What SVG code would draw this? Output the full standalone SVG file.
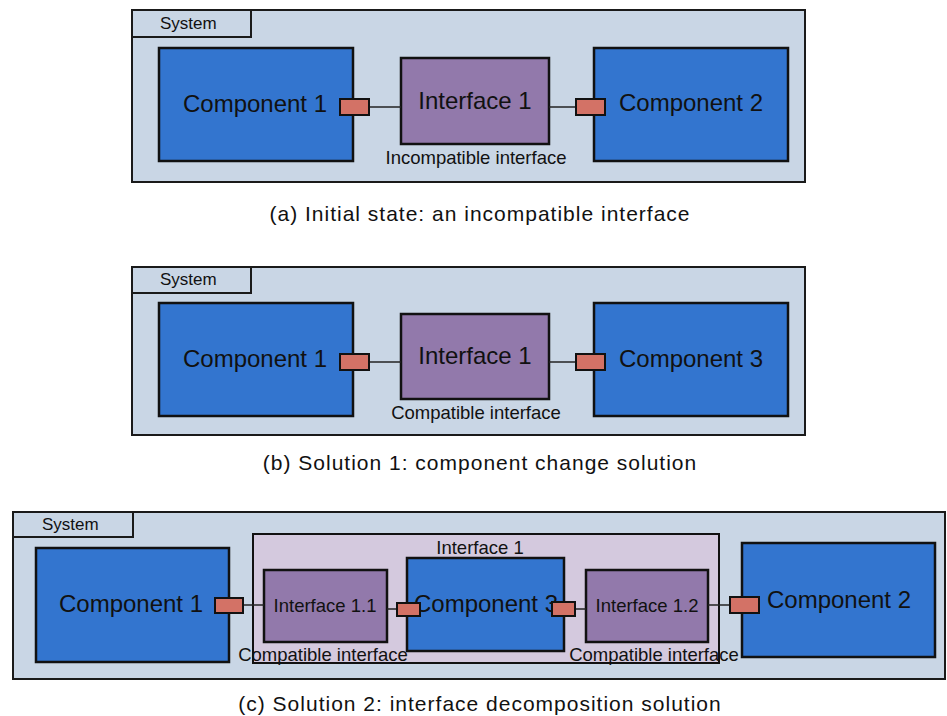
<svg xmlns="http://www.w3.org/2000/svg" width="947" height="716" viewBox="0 0 947 716">
<style>
text{font-family:"Liberation Sans",Arial,sans-serif;fill:#111}
.sys{fill:#c9d6e5;stroke:#1a1a1a;stroke-width:2}
.tab{fill:#c9d6e5;stroke:#1a1a1a;stroke-width:2}
.comp{fill:#3375cf;stroke:#111;stroke-width:2.5}
.intf{fill:#9279ab;stroke:#111;stroke-width:2.5}
.cont{fill:#d4c9de;stroke:#111;stroke-width:2}
.port{fill:#d37266;stroke:#111;stroke-width:2}
.wire{stroke:#222;stroke-width:1.5;fill:none}
.big{font-size:24px}
.mid{font-size:18.5px}
.sm{font-size:17px}
.cap{font-size:21px;letter-spacing:1px}
</style>
<rect width="947" height="716" fill="#ffffff"/>

<!-- Panel (a) -->
<g id="system-a">
<rect class="sys" x="132" y="10" width="673" height="172"/>
<rect class="tab" x="132" y="10" width="119" height="27"/>
<text class="sm" x="160" y="29">System</text>
</g>
<g id="comp1-a">
<rect class="comp" x="159" y="48" width="194" height="113"/>
<text class="big" x="255" y="112" text-anchor="middle">Component 1</text>
</g>
<g id="intf1-a">
<rect class="intf" x="401" y="58" width="148" height="86"/>
<text class="big" x="475" y="109" text-anchor="middle">Interface 1</text>
<text class="mid" x="476" y="164" text-anchor="middle">Incompatible interface</text>
</g>
<g id="comp2-a">
<rect class="comp" x="594" y="48" width="194" height="113"/>
<text class="big" x="691" y="111" text-anchor="middle">Component 2</text>
</g>

<!-- Panel (b) -->
<g id="system-b">
<rect class="sys" x="132" y="267" width="673" height="168"/>
<rect class="tab" x="132" y="267" width="119" height="26"/>
<text class="sm" x="160" y="285">System</text>
</g>
<g id="comp1-b">
<rect class="comp" x="159" y="303" width="194" height="113"/>
<text class="big" x="255" y="367" text-anchor="middle">Component 1</text>
</g>
<g id="intf1-b">
<rect class="intf" x="401" y="314" width="148" height="85"/>
<text class="big" x="475" y="364" text-anchor="middle">Interface 1</text>
<text class="mid" x="476" y="419" text-anchor="middle">Compatible interface</text>
</g>
<g id="comp3-b">
<rect class="comp" x="594" y="303" width="194" height="113"/>
<text class="big" x="691" y="367" text-anchor="middle">Component 3</text>
</g>

<!-- Panel (c) -->
<g id="system-c">
<rect class="sys" x="13" y="512" width="932" height="167"/>
<rect class="tab" x="13" y="512" width="120" height="25"/>
<text class="sm" x="42" y="530">System</text>
</g>
<g id="comp1-c">
<rect class="comp" x="36" y="548" width="193" height="114"/>
<text class="big" x="131" y="612" text-anchor="middle">Component 1</text>
</g>
<g id="intf1-c">
<rect class="cont" x="253" y="534" width="466" height="129"/>
<text class="mid" x="480" y="554" text-anchor="middle">Interface 1</text>
</g>
<g id="intf11-c">
<rect class="intf" x="264" y="570" width="123" height="72"/>
<text class="mid" x="325" y="612" text-anchor="middle">Interface 1.1</text>
</g>
<g id="comp3-c">
<rect class="comp" x="407" y="558" width="157" height="93"/>
<text class="big" x="486" y="612" text-anchor="middle">Component 3</text>
</g>
<g id="intf12-c">
<rect class="intf" x="586" y="570" width="122" height="72"/>
<text class="mid" x="647" y="612" text-anchor="middle">Interface 1.2</text>
</g>
<g id="comp2-c">
<rect class="comp" x="742" y="543" width="193" height="114"/>
<text class="big" x="839" y="608" text-anchor="middle">Component 2</text>
</g>
<g id="labels-c">
<text class="mid" x="323" y="661" text-anchor="middle">Compatible interface</text>
<text class="mid" x="654" y="661" text-anchor="middle">Compatible interface</text>
</g>

<!-- Connectors -->
<g id="connectors">
<line class="wire" x1="369" y1="107" x2="401" y2="107"/>
<line class="wire" x1="549" y1="107" x2="576" y2="107"/>
<rect class="port" x="340" y="99" width="29" height="16"/>
<rect class="port" x="576" y="99" width="29" height="16"/>

<line class="wire" x1="369" y1="362" x2="401" y2="362"/>
<line class="wire" x1="549" y1="362" x2="576" y2="362"/>
<rect class="port" x="340" y="354" width="29" height="16"/>
<rect class="port" x="576" y="354" width="29" height="16"/>

<line class="wire" x1="243" y1="605" x2="264" y2="605"/>
<line class="wire" x1="387" y1="609" x2="397" y2="609"/>
<line class="wire" x1="575" y1="609" x2="586" y2="609"/>
<line class="wire" x1="708" y1="605" x2="730" y2="605"/>
<rect class="port" x="215" y="598" width="28" height="15"/>
<rect class="port" x="397" y="603" width="23" height="13"/>
<rect class="port" x="552" y="602" width="23" height="14"/>
<rect class="port" x="730" y="597" width="29" height="16"/>
</g>

<!-- Captions -->
<g id="captions">
<text class="cap" x="480" y="221" text-anchor="middle">(a) Initial state: an incompatible interface</text>
<text class="cap" x="480" y="470" text-anchor="middle">(b) Solution 1: component change solution</text>
<text class="cap" x="480" y="711" text-anchor="middle">(c) Solution 2: interface decomposition solution</text>
</g>
</svg>
